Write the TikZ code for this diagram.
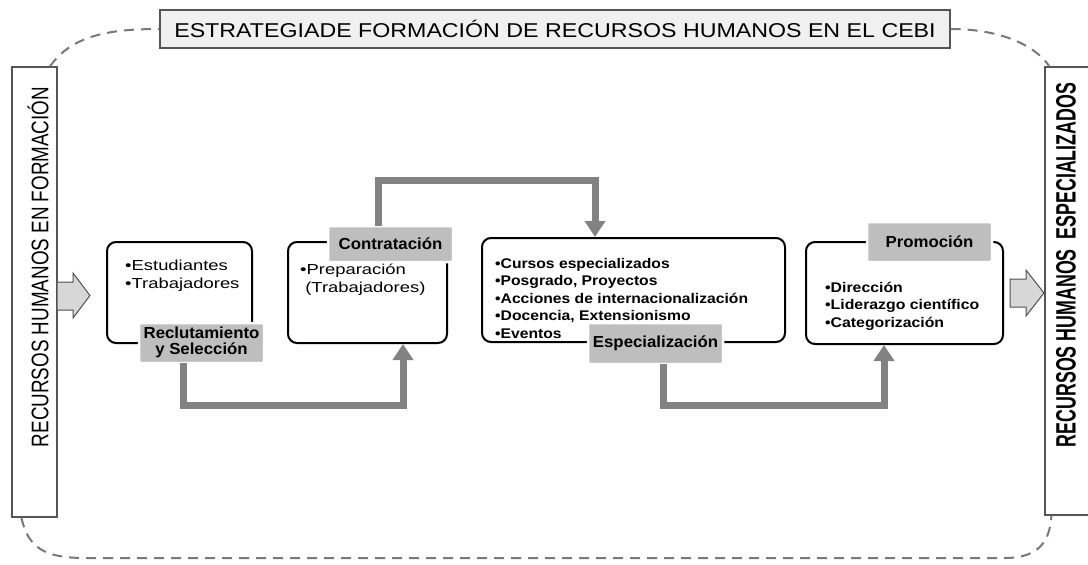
\documentclass[tikz,border=0pt]{standalone}
\usepackage{fontspec}
\usepackage{graphicx}
\setmainfont{Liberation Sans}
\usetikzlibrary{arrows.meta}
\definecolor{tagfill}{RGB}{190,190,190}
\definecolor{conngray}{RGB}{130,130,130}
\definecolor{fatfill}{RGB}{215,215,215}
\definecolor{fatline}{RGB}{80,80,80}
\definecolor{dashgray}{RGB}{120,120,120}
\definecolor{titlefill}{RGB}{240,240,240}
\definecolor{titleline}{RGB}{85,85,85}
\newcommand{\sx}[2]{\scalebox{#1}[1]{#2}}
\newcommand{\llines}[1]{\begin{tabular}{@{}l@{}}#1\end{tabular}}
\newcommand{\clines}[1]{\begin{tabular}{@{}c@{}}#1\end{tabular}}
\begin{document}
\begin{tikzpicture}[x=1pt,y=-1pt,
  titlebox/.style={draw=titleline, fill=titlefill, line width=1.3pt, inner sep=0pt,
    minimum width=790pt, minimum height=38pt, font=\fontsize{20}{24}\selectfont},
  sidebox/.style={draw=titleline, fill=white, line width=1.2pt, inner sep=0pt},
  procbox/.style={draw=black, fill=white, line width=2pt, rounded corners=9pt, inner sep=0pt},
  tag/.style={fill=tagfill, draw=white, line width=2.5pt, rounded corners=2pt, inner sep=0pt,
    font=\bfseries\fontsize{16}{16}\selectfont},
  bodyr/.style={anchor=north west, inner sep=0pt, font=\fontsize{14.5}{18}\selectfont},
  bodyb/.style={anchor=north west, inner sep=0pt, font=\bfseries\fontsize{14}{17.5}\selectfont},
  conn/.style={draw=conngray, line width=7pt, -{Triangle[width=20pt,length=16pt]}},
  fat/.style={draw=fatline, fill=fatfill, line width=1pt, line join=miter},
  outline/.style={draw=dashgray, line width=2pt, dash pattern=on 10pt off 7pt}
]
\useasboundingbox (0,0) rectangle (1088,565);
\fill[white] (0,0) rectangle (1088,565);

% frame nodes
\node[titlebox] (title) at (555,29) {\sx{1.16}{ESTRATEGIADE FORMACIÓN DE RECURSOS HUMANOS EN EL CEBI}};
\node[sidebox, minimum width=45pt, minimum height=450pt] (lbox) at (34.5,292) {};
\node[sidebox, minimum width=50pt, minimum height=448pt] (rbox) at (1070,291) {};

% dashed outline
\draw[outline] ([xshift=15.5pt]lbox.north) .. controls (72,35) and (110,29) .. (title.west);
\draw[outline] (title.east) .. controls (1000,29) and (1035,45) .. ([xshift=5pt]rbox.north west);
\draw[outline] ([xshift=10pt]lbox.south west) .. controls (28,548) and (45,558) .. (85,558)
  -- (1005,558) .. controls (1040,558) and (1050,540) .. ([xshift=7pt]rbox.south west);

% vertical texts
\node[rotate=90, inner sep=0pt, font=\fontsize{24}{28}\selectfont] (ltext) at (38,267)
  {\sx{0.785}{RECURSOS HUMANOS EN FORMACIÓN}};
\node[rotate=90, inner sep=0pt, font=\bfseries\fontsize{28}{32}\selectfont] (rtext) at (1066,265)
  {\sx{0.636}{RECURSOS HUMANOS\ \ ESPECIALIZADOS}};

% fat arrows
\draw[fat] (57,282) -- (73,282) -- (73,273) -- (90,295.5) -- (73,318) -- (73,310) -- (57,310) -- cycle;
\draw[fat] (1010,279) -- (1026,279) -- (1026,270) -- (1044,293) -- (1026,316) -- (1026,307) -- (1010,307) -- cycle;

% process boxes
\node[procbox, minimum width=145pt, minimum height=101pt] (b1) at (179.5,292.5) {};
\node[procbox, minimum width=159pt, minimum height=101pt] (b2) at (367.5,292.5) {};
\node[procbox, minimum width=303pt, minimum height=104pt] (b3) at (633.5,290) {};
\node[procbox, minimum width=197pt, minimum height=102pt] (b4) at (904.5,293) {};

% box texts
\node[bodyr] (t1) at (125,258) {\sx{1.27}{\llines{\textbullet Estudiantes\\\textbullet Trabajadores}}};
\node[bodyr] (t2) at (300,262) {\sx{1.27}{\llines{\textbullet Preparación\\\ (Trabajadores)}}};
\node[bodyb] (t3) at (495,256) {\sx{1.12}{\llines{\textbullet Cursos especializados\\\textbullet Posgrado, Proyectos\\\textbullet Acciones de internacionalización\\\textbullet Docencia, Extensionismo\\\textbullet Eventos}}};
\node[bodyb] (t4) at (825,280) {\sx{1.13}{\llines{\textbullet Dirección\\\textbullet Liderazgo científico\\\textbullet Categorización}}};

% labels (placed before connectors are drawn below them)
\node[tag, minimum width=125pt, minimum height=40pt] (l1) at (201.5,343) {\sx{1.05}{\clines{Reclutamiento\\y Selección}}};
\node[tag, minimum width=125pt, minimum height=36pt] (l2) at (390.5,244) {\sx{1.05}{Contratación}};
\node[tag, minimum width=135pt, minimum height=41pt] (l3) at (655.5,343.5) {\sx{1.05}{Especialización}};
\node[tag, minimum width=125pt, minimum height=40pt] (l4) at (929.5,242) {\sx{1.05}{Promoción}};

% connectors
\draw[conn] ([xshift=-18.5pt,yshift=1pt]l1.south) -- ([xshift=-18.5pt]l1.south |- 0,405) -| ([xshift=35.5pt]b2.south);
\draw[conn] ([xshift=-12.5pt,yshift=-1pt]l2.north) -- ([xshift=-12.5pt]l2.north |- 0,180) -| ([xshift=-38.5pt]b3.north);
\draw[conn] ([xshift=8pt,yshift=1pt]l3.south) -- ([xshift=8pt]l3.south |- 0,405) -| ([xshift=-20.5pt]b4.south);
\end{tikzpicture}
\end{document}
